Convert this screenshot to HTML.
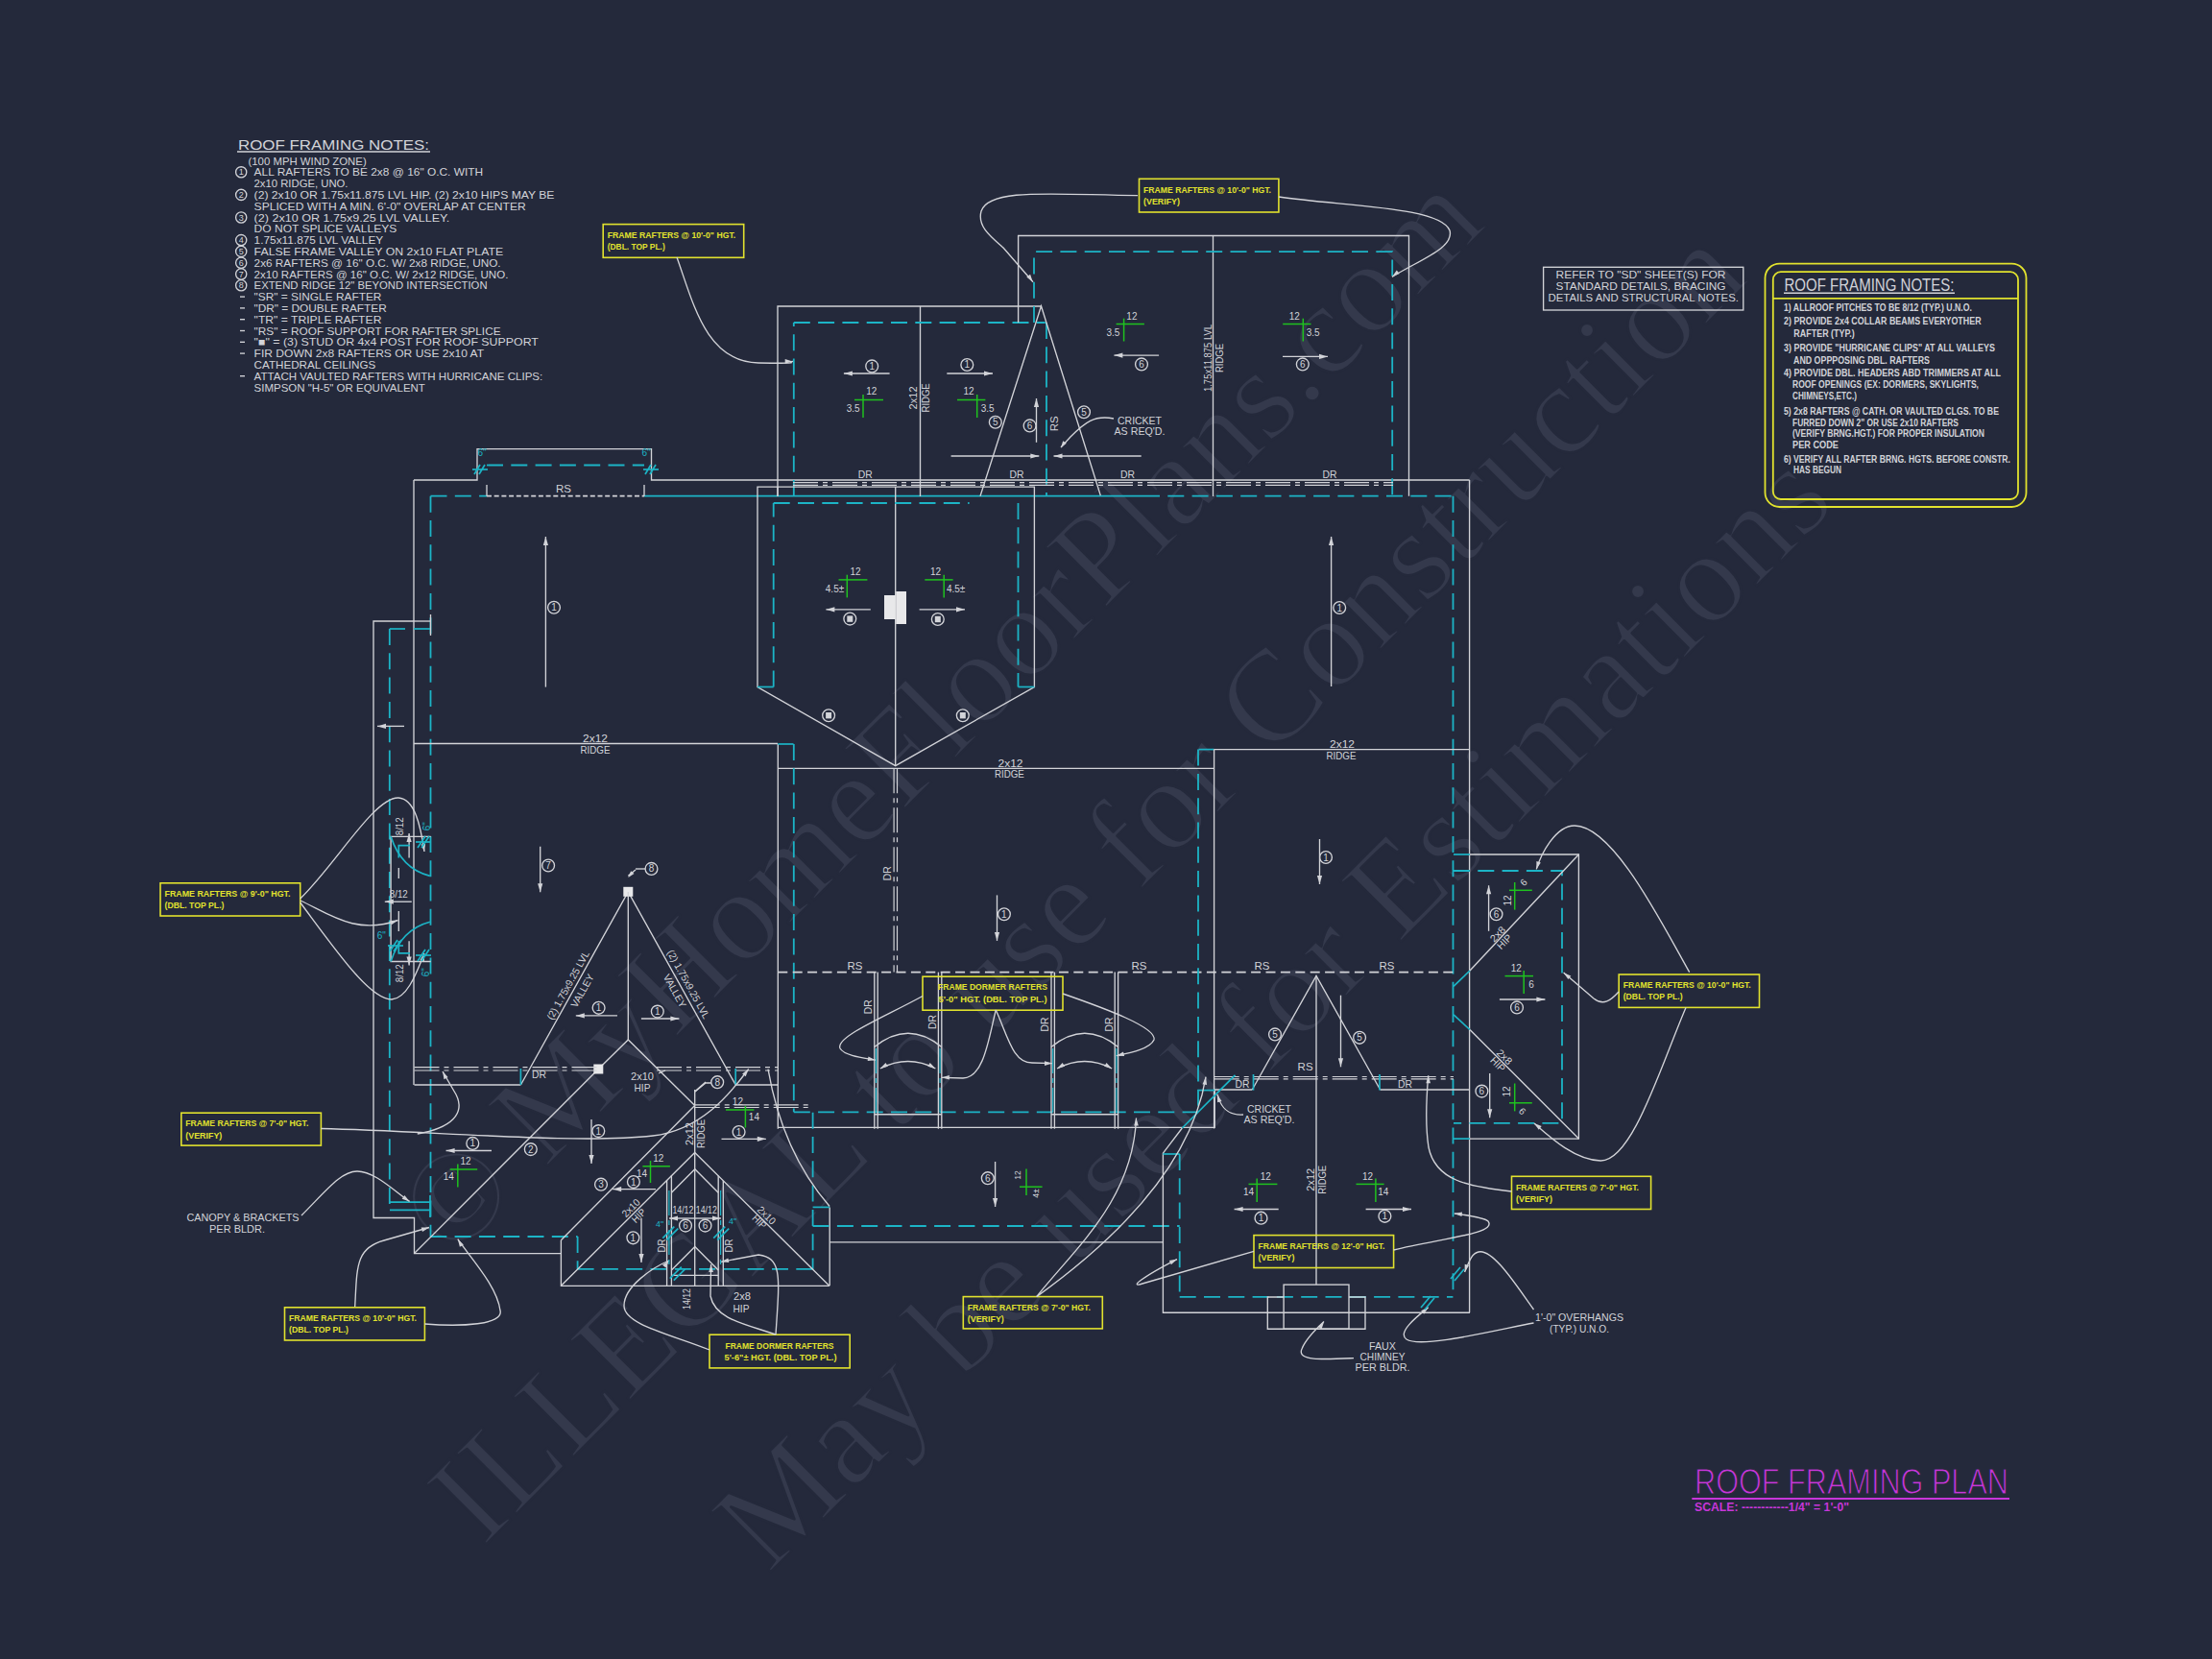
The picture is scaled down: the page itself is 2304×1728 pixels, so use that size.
<!DOCTYPE html>
<html><head><meta charset="utf-8"><title>Roof Framing Plan</title><style>
html,body{margin:0;padding:0;background:#24293b;}
svg{display:block}
.w{stroke:#d2d3d8;stroke-width:1.35;fill:none}
.w2{stroke:#d2d3d8;stroke-width:1.6;fill:none}
.c{stroke:#1cb4c6;stroke-width:1.7;fill:none}
.cd{stroke:#1cb4c6;stroke-width:1.8;fill:none;stroke-dasharray:17 8.3}
.rs{stroke:#d2d3d8;stroke-width:1.7;fill:none;stroke-dasharray:5 2.7}
.rs2{stroke:#d2d3d8;stroke-width:1.7;fill:none;stroke-dasharray:10 5.4}
.dr{stroke:#d2d3d8;stroke-width:1.2;fill:none;stroke-dasharray:26 5 5 5}
.drc{stroke:#1cb4c6;stroke-width:1.2;fill:none;stroke-dasharray:26 5 5 5}
.g{stroke:#1fc21f;stroke-width:1.5;fill:none}
.yb{stroke:#e1e22e;stroke-width:1.6;fill:none}
.ybl{stroke:#e1e22e;stroke-width:1.8;fill:none}
.fw{fill:#d2d3d8;stroke:none}
.tw{fill:#d2d3d8;font-family:"Liberation Sans",sans-serif}
.twb{fill:#d2d3d8;font-family:"Liberation Sans",sans-serif;font-weight:bold}
.ty{fill:#e1e22e;font-family:"Liberation Sans",sans-serif;font-weight:bold}
.tms{fill:#c736d9;font-family:"Liberation Sans",sans-serif;font-weight:bold}
.tc{fill:#1cb4c6;font-family:"Liberation Sans",sans-serif}
.tm{fill:#c736d9;font-family:"Liberation Sans",sans-serif;stroke:#24293b;stroke-width:1.1px}
.wm{fill:rgba(200,205,225,0.10);font-family:"Liberation Serif",serif;stroke:#24293b;stroke-width:2.6px;stroke-linejoin:round}
</style></head>
<body><svg width="2304" height="1728" viewBox="0 0 2304 1728">
<rect x="0" y="0" width="2304" height="1728" fill="#24293b"/>
<text x="470" y="1315" class="wm" font-size="137" transform="rotate(-45 470 1315)">© MyHomeFloorPlans.com</text>
<text x="503" y="1612" class="wm" font-size="137" transform="rotate(-45 503 1612)">ILLEGAL to use for Construction</text>
<text x="800" y="1640" class="wm" font-size="137" transform="rotate(-45 800 1640)">May be used for Estimations</text>
<text x="248" y="156" class="tw" font-size="14.5" textLength="199" lengthAdjust="spacingAndGlyphs">ROOF FRAMING NOTES:</text>
<line x1="247" y1="158" x2="448" y2="158" class="w"/>
<text x="258.5" y="171.5" class="tw" font-size="11.4" textLength="123.2" lengthAdjust="spacingAndGlyphs">(100 MPH WIND ZONE)</text>
<circle cx="251.2" cy="179.3" r="5.6" class="w"/>
<text x="251.2" y="182.4" class="tw" font-size="9" text-anchor="middle">1</text>
<text x="264.6" y="183.3" class="tw" font-size="11.4" textLength="238.6" lengthAdjust="spacingAndGlyphs">ALL RAFTERS TO BE 2x8 @ 16" O.C. WITH</text>
<text x="264.6" y="195.1" class="tw" font-size="11.4" textLength="97.9" lengthAdjust="spacingAndGlyphs">2x10 RIDGE, UNO.</text>
<circle cx="251.2" cy="202.9" r="5.6" class="w"/>
<text x="251.2" y="206" class="tw" font-size="9" text-anchor="middle">2</text>
<text x="264.6" y="206.9" class="tw" font-size="11.4" textLength="312.9" lengthAdjust="spacingAndGlyphs">(2) 2x10 OR 1.75x11.875 LVL HIP. (2) 2x10 HIPS MAY BE</text>
<text x="264.6" y="218.7" class="tw" font-size="11.4" textLength="283.2" lengthAdjust="spacingAndGlyphs">SPLICED WITH A MIN. 6'-0" OVERLAP AT CENTER</text>
<circle cx="251.2" cy="226.5" r="5.6" class="w"/>
<text x="251.2" y="229.6" class="tw" font-size="9" text-anchor="middle">3</text>
<text x="264.6" y="230.5" class="tw" font-size="11.4" textLength="203.7" lengthAdjust="spacingAndGlyphs">(2) 2x10 OR 1.75x9.25 LVL VALLEY.</text>
<text x="264.6" y="242.3" class="tw" font-size="11.4" textLength="148.6" lengthAdjust="spacingAndGlyphs">DO NOT SPLICE VALLEYS</text>
<circle cx="251.2" cy="250.1" r="5.6" class="w"/>
<text x="251.2" y="253.2" class="tw" font-size="9" text-anchor="middle">4</text>
<text x="264.6" y="254.1" class="tw" font-size="11.4" textLength="134.6" lengthAdjust="spacingAndGlyphs">1.75x11.875 LVL VALLEY</text>
<circle cx="251.2" cy="261.9" r="5.6" class="w"/>
<text x="251.2" y="265" class="tw" font-size="9" text-anchor="middle">5</text>
<text x="264.6" y="265.9" class="tw" font-size="11.4" textLength="259.6" lengthAdjust="spacingAndGlyphs">FALSE FRAME VALLEY ON 2x10 FLAT PLATE</text>
<circle cx="251.2" cy="273.7" r="5.6" class="w"/>
<text x="251.2" y="276.8" class="tw" font-size="9" text-anchor="middle">6</text>
<text x="264.6" y="277.7" class="tw" font-size="11.4" textLength="257" lengthAdjust="spacingAndGlyphs">2x6 RAFTERS @ 16" O.C. W/ 2x8 RIDGE, UNO.</text>
<circle cx="251.2" cy="285.5" r="5.6" class="w"/>
<text x="251.2" y="288.6" class="tw" font-size="9" text-anchor="middle">7</text>
<text x="264.6" y="289.5" class="tw" font-size="11.4" textLength="264.8" lengthAdjust="spacingAndGlyphs">2x10 RAFTERS @ 16" O.C. W/ 2x12 RIDGE, UNO.</text>
<circle cx="251.2" cy="297.3" r="5.6" class="w"/>
<text x="251.2" y="300.4" class="tw" font-size="9" text-anchor="middle">8</text>
<text x="264.6" y="301.3" class="tw" font-size="11.4" textLength="243" lengthAdjust="spacingAndGlyphs">EXTEND RIDGE 12" BEYOND INTERSECTION</text>
<line x1="250" y1="309.1" x2="255" y2="309.1" class="w"/>
<text x="264.6" y="313.1" class="tw" font-size="11.4" textLength="132.8" lengthAdjust="spacingAndGlyphs">"SR" = SINGLE RAFTER</text>
<line x1="250" y1="320.9" x2="255" y2="320.9" class="w"/>
<text x="264.6" y="324.9" class="tw" font-size="11.4" textLength="138.1" lengthAdjust="spacingAndGlyphs">"DR" = DOUBLE RAFTER</text>
<line x1="250" y1="332.7" x2="255" y2="332.7" class="w"/>
<text x="264.6" y="336.7" class="tw" font-size="11.4" textLength="132.8" lengthAdjust="spacingAndGlyphs">"TR" = TRIPLE RAFTER</text>
<line x1="250" y1="344.5" x2="255" y2="344.5" class="w"/>
<text x="264.6" y="348.5" class="tw" font-size="11.4" textLength="257" lengthAdjust="spacingAndGlyphs">"RS" = ROOF SUPPORT FOR RAFTER SPLICE</text>
<line x1="250" y1="356.3" x2="255" y2="356.3" class="w"/>
<text x="264.6" y="360.3" class="tw" font-size="11.4" textLength="296.3" lengthAdjust="spacingAndGlyphs">"■" = (3) STUD OR 4x4 POST FOR ROOF SUPPORT</text>
<line x1="250" y1="368.1" x2="255" y2="368.1" class="w"/>
<text x="264.6" y="372.1" class="tw" font-size="11.4" textLength="239.5" lengthAdjust="spacingAndGlyphs">FIR DOWN 2x8 RAFTERS OR USE 2x10 AT</text>
<text x="264.6" y="383.9" class="tw" font-size="11.4" textLength="126.7" lengthAdjust="spacingAndGlyphs">CATHEDRAL CEILINGS</text>
<line x1="250" y1="391.7" x2="255" y2="391.7" class="w"/>
<text x="264.6" y="395.7" class="tw" font-size="11.4" textLength="300.7" lengthAdjust="spacingAndGlyphs">ATTACH VAULTED RAFTERS WITH HURRICANE CLIPS:</text>
<text x="264.6" y="407.5" class="tw" font-size="11.4" textLength="178.3" lengthAdjust="spacingAndGlyphs">SIMPSON "H-5" OR EQUIVALENT</text>
<rect x="1607.6" y="278.3" width="208.2" height="44.7" class="w"/>
<text x="1709" y="289.8" class="tw" font-size="11" text-anchor="middle" textLength="177" lengthAdjust="spacingAndGlyphs">REFER TO "SD"  SHEET(S) FOR</text>
<text x="1709" y="301.5" class="tw" font-size="11" text-anchor="middle" textLength="177" lengthAdjust="spacingAndGlyphs">STANDARD DETAILS, BRACING</text>
<text x="1711.7" y="313.7" class="tw" font-size="11" text-anchor="middle" textLength="198.5" lengthAdjust="spacingAndGlyphs">DETAILS AND STRUCTURAL NOTES.</text>
<rect x="1838.5" y="274.6" width="272" height="253.4" rx="15" ry="15" class="ybl"/>
<rect x="1846.8" y="283.2" width="255.2" height="236.8" rx="8" ry="8" class="ybl"/>
<line x1="1846.8" y1="310.8" x2="2102" y2="310.8" class="ybl"/>
<text x="1858.5" y="303.2" class="tw" font-size="18.5" textLength="177" lengthAdjust="spacingAndGlyphs">ROOF FRAMING NOTES:</text>
<line x1="1858" y1="305.2" x2="2036" y2="305.2" class="w"/>
<text x="1858" y="324" class="twb" font-size="10.4" textLength="196" lengthAdjust="spacingAndGlyphs">1) ALLROOF PITCHES TO BE  8/12 (TYP.) U.N.O.</text>
<text x="1858" y="337.6" class="twb" font-size="10.4" textLength="205.6" lengthAdjust="spacingAndGlyphs">2) PROVIDE 2x4 COLLAR BEAMS EVERYOTHER</text>
<text x="1868.3" y="350.8" class="twb" font-size="10.4" textLength="63.5" lengthAdjust="spacingAndGlyphs">RAFTER (TYP.)</text>
<text x="1858" y="365.5" class="twb" font-size="10.4" textLength="220" lengthAdjust="spacingAndGlyphs">3) PROVIDE "HURRICANE CLIPS" AT ALL VALLEYS</text>
<text x="1868" y="379.1" class="twb" font-size="10.4" textLength="142" lengthAdjust="spacingAndGlyphs">AND OPPPOSING DBL. RAFTERS</text>
<text x="1858" y="392.3" class="twb" font-size="10.4" textLength="226" lengthAdjust="spacingAndGlyphs">4) PROVIDE DBL. HEADERS ABD TRIMMERS AT ALL</text>
<text x="1867" y="404" class="twb" font-size="10.4" textLength="194" lengthAdjust="spacingAndGlyphs">ROOF OPENINGS (EX: DORMERS, SKYLIGHTS,</text>
<text x="1867" y="416.3" class="twb" font-size="10.4" textLength="67" lengthAdjust="spacingAndGlyphs">CHIMNEYS,ETC.)</text>
<text x="1858" y="432" class="twb" font-size="10.4" textLength="224" lengthAdjust="spacingAndGlyphs">5) 2x8 RAFTERS @ CATH. OR VAULTED CLGS. TO BE</text>
<text x="1867" y="443.6" class="twb" font-size="10.4" textLength="173" lengthAdjust="spacingAndGlyphs">FURRED DOWN 2" OR USE 2x10 RAFTERS</text>
<text x="1867" y="454.8" class="twb" font-size="10.4" textLength="200" lengthAdjust="spacingAndGlyphs">(VERIFY BRNG.HGT.) FOR PROPER INSULATION</text>
<text x="1867" y="467" class="twb" font-size="10.4" textLength="48" lengthAdjust="spacingAndGlyphs">PER CODE</text>
<text x="1858" y="482.2" class="twb" font-size="10.4" textLength="236" lengthAdjust="spacingAndGlyphs">6) VERIFY ALL RAFTER BRNG. HGTS. BEFORE CONSTR.</text>
<text x="1868" y="493.2" class="twb" font-size="10.4" textLength="50" lengthAdjust="spacingAndGlyphs">HAS BEGUN</text>
<text x="1765" y="1556.4" class="tm" font-size="36" textLength="327" lengthAdjust="spacingAndGlyphs">ROOF FRAMING PLAN</text>
<line x1="1762.3" y1="1561" x2="2093" y2="1561" style="stroke:#c736d9;stroke-width:2"/>
<text x="1765" y="1574" class="tms" font-size="12.5" textLength="161" lengthAdjust="spacingAndGlyphs">SCALE: ------------1/4" = 1'-0"</text>
<polyline points="431,500 497,500 497,467.6 678.5,467.6 678.5,500 1530.6,500" class="w"/>
<line x1="431" y1="500" x2="431" y2="1130" class="w"/>
<line x1="1530.6" y1="500" x2="1530.6" y2="1367.2" class="w"/>
<line x1="448.5" y1="516.7" x2="507" y2="516.7" class="cd"/>
<line x1="507" y1="516.7" x2="671" y2="516.7" class="rs"/>
<line x1="671" y1="516.7" x2="1191" y2="516.7" class="c"/>
<line x1="1191" y1="516.7" x2="1513.5" y2="516.7" class="cd"/>
<line x1="507" y1="505" x2="507" y2="516.7" class="w"/>
<line x1="671" y1="505" x2="671" y2="516.7" class="w"/>
<line x1="448.5" y1="516.7" x2="448.5" y2="1288" class="cd"/>
<line x1="1513.5" y1="516.7" x2="1513.5" y2="1350.9" class="cd"/>
<line x1="507" y1="484.5" x2="671" y2="484.5" class="cd"/>
<text x="587" y="513.1" class="tw" font-size="10.5" text-anchor="middle" textLength="16" lengthAdjust="spacingAndGlyphs">RS</text>
<text x="502" y="475.4" class="tc" font-size="10" text-anchor="middle">6"</text>
<text x="673" y="475.4" class="tc" font-size="10" text-anchor="middle">6"</text>
<line x1="494" y1="494" x2="500" y2="484" class="c"/>
<line x1="499" y1="494" x2="505" y2="484" class="c"/>
<line x1="492" y1="489" x2="508" y2="489" class="c"/>
<line x1="672" y1="494" x2="678" y2="484" class="c"/>
<line x1="677" y1="494" x2="683" y2="484" class="c"/>
<line x1="670" y1="489" x2="686" y2="489" class="c"/>
<polyline points="810,517 810,319 1084.5,319" class="w"/>
<line x1="958.5" y1="319" x2="958.5" y2="517" class="w"/>
<line x1="826.8" y1="517" x2="826.8" y2="336" class="cd"/>
<line x1="826.8" y1="336" x2="1088.8" y2="336" class="cd"/>
<polyline points="1060.6,336 1060.6,245.5 1467.5,245.5 1467.5,516.7" class="w"/>
<line x1="1263.5" y1="245.5" x2="1263.5" y2="517" class="w"/>
<polyline points="1077,336 1077,262.2 1450.2,262.2 1450.2,516.7" class="cd"/>
<line x1="1090" y1="336" x2="1090" y2="516.7" class="cd"/>
<polyline points="1021,516.8 1084.5,318.7 1146.3,516.1" class="w"/>
<line x1="826" y1="502.6" x2="1451" y2="502.6" class="dr"/>
<line x1="826" y1="505.3" x2="1451" y2="505.3" class="dr"/>
<text x="901.2" y="497.6" class="tw" font-size="10.5" text-anchor="middle" textLength="15" lengthAdjust="spacingAndGlyphs">DR</text>
<text x="1059" y="497.6" class="tw" font-size="10.5" text-anchor="middle" textLength="15" lengthAdjust="spacingAndGlyphs">DR</text>
<text x="1174.5" y="497.6" class="tw" font-size="10.5" text-anchor="middle" textLength="15" lengthAdjust="spacingAndGlyphs">DR</text>
<text x="1385" y="497.6" class="tw" font-size="10.5" text-anchor="middle" textLength="15" lengthAdjust="spacingAndGlyphs">DR</text>
<polygon points="789,507.1 789,715.5 932.7,797.6 1077.4,715.5 1077.4,507.1" class="w"/>
<line x1="932.7" y1="507.1" x2="932.7" y2="797.6" class="w"/>
<line x1="805.7" y1="715.5" x2="805.7" y2="524" class="cd"/>
<line x1="805.7" y1="524" x2="1009.6" y2="524" class="cd"/>
<line x1="1060.5" y1="524" x2="1060.5" y2="715.5" class="cd"/>
<line x1="789" y1="715.5" x2="805.7" y2="715.5" class="c"/>
<line x1="1060.5" y1="715.5" x2="1077.4" y2="715.5" class="c"/>
<rect x="921" y="620" width="11.7" height="25" class="fw" style="fill:#e8e8ea"/>
<rect x="933.2" y="616" width="10.8" height="34" class="fw" style="fill:#e8e8ea"/>
<line x1="873.5" y1="603.9" x2="903.4" y2="603.9" class="g"/>
<line x1="882.3" y1="598.7" x2="882.3" y2="622.4" class="g"/>
<text x="891" y="599.2" class="tw" font-size="10" text-anchor="middle">12</text>
<text x="869.5" y="617.2" class="tw" font-size="10" text-anchor="middle">4.5±</text>
<line x1="963.3" y1="603.9" x2="992.6" y2="603.9" class="g"/>
<line x1="983.2" y1="598.7" x2="983.2" y2="622.4" class="g"/>
<text x="974.6" y="599.2" class="tw" font-size="10" text-anchor="middle">12</text>
<text x="995.6" y="617.2" class="tw" font-size="10" text-anchor="middle">4.5±</text>
<line x1="906.8" y1="634.8" x2="860.4" y2="634.8" class="w"/>
<polygon points="860.4,634.8 869.4,632.2 869.4,637.4" class="fw"/>
<line x1="957.6" y1="634.8" x2="1005" y2="634.8" class="w"/>
<polygon points="1005,634.8 996,637.4 996,632.2" class="fw"/>
<circle cx="885.3" cy="644.6" r="6.4" class="w"/>
<rect x="882.3" y="641.4" width="6" height="6.4" class="fw"/>
<circle cx="976.8" cy="645" r="6.4" class="w"/>
<rect x="973.8" y="641.8" width="6" height="6.4" class="fw"/>
<circle cx="863.1" cy="745.2" r="6.4" class="w"/>
<rect x="860.1" y="742" width="6" height="6.4" class="fw"/>
<circle cx="1002.8" cy="745.2" r="6.4" class="w"/>
<rect x="999.8" y="742" width="6" height="6.4" class="fw"/>
<line x1="431" y1="774.5" x2="810" y2="774.5" class="w"/>
<text x="620" y="772.6" class="tw" font-size="10.5" text-anchor="middle" textLength="26" lengthAdjust="spacingAndGlyphs">2x12</text>
<text x="620" y="784.6" class="tw" font-size="10.5" text-anchor="middle" textLength="31" lengthAdjust="spacingAndGlyphs">RIDGE</text>
<line x1="810" y1="507.1" x2="810" y2="517" class="w"/>
<line x1="568.4" y1="715.6" x2="568.4" y2="559" class="w"/>
<polygon points="568.4,559 571,568 565.8,568" class="fw"/>
<circle cx="577" cy="632.7" r="6.4" class="w"/>
<text x="577" y="636.2" class="tw" font-size="10" text-anchor="middle">1</text>
<line x1="1386.6" y1="715" x2="1386.6" y2="559" class="w"/>
<polygon points="1386.6,559 1389.2,568 1384,568" class="fw"/>
<circle cx="1395.2" cy="633" r="6.4" class="w"/>
<text x="1395.2" y="636.5" class="tw" font-size="10" text-anchor="middle">1</text>
<polyline points="431,647 389,647 389,1268.5 431.5,1268.5 431.5,1305.6 584,1305.6" class="w"/>
<line x1="405.8" y1="655" x2="405.8" y2="1260" class="cd"/>
<line x1="405.8" y1="655" x2="422" y2="655" class="c"/>
<line x1="431" y1="655" x2="448.5" y2="655" class="c"/>
<line x1="431" y1="647" x2="448.5" y2="647" class="w"/>
<line x1="448.5" y1="640" x2="448.5" y2="662" class="w"/>
<line x1="406" y1="1252.2" x2="448" y2="1252.2" class="c"/>
<line x1="406" y1="1260.3" x2="448" y2="1260.3" class="c"/>
<line x1="448" y1="1245" x2="448" y2="1268" class="c"/>
<line x1="421" y1="756.4" x2="393" y2="756.4" class="w"/>
<polygon points="393,756.4 402,753.8 402,759" class="fw"/>
<line x1="448.3" y1="1288" x2="601.6" y2="1288" class="cd"/>
<line x1="810.3" y1="775" x2="810.3" y2="1175.7" class="w"/>
<line x1="810.3" y1="775" x2="826.5" y2="775" class="c"/>
<line x1="810.3" y1="800.3" x2="1265" y2="800.3" class="w"/>
<line x1="826.8" y1="775" x2="826.8" y2="1158.3" class="cd"/>
<text x="1052.5" y="798.9" class="tw" font-size="10.5" text-anchor="middle" textLength="26" lengthAdjust="spacingAndGlyphs">2x12</text>
<text x="1051.4" y="810.2" class="tw" font-size="10.5" text-anchor="middle" textLength="31" lengthAdjust="spacingAndGlyphs">RIDGE</text>
<line x1="931.1" y1="800.3" x2="931.1" y2="1012.6" class="dr"/>
<line x1="934.5" y1="800.3" x2="934.5" y2="1012.6" class="dr"/>
<text x="924.3" y="913.4" class="tw" font-size="10.5" text-anchor="middle" textLength="15" lengthAdjust="spacingAndGlyphs" transform="rotate(-90 924.3 909.8)">DR</text>
<line x1="810.3" y1="1012.7" x2="1514" y2="1012.7" class="rs2"/>
<text x="890.4" y="1009.5" class="tw" font-size="10.5" text-anchor="middle" textLength="16" lengthAdjust="spacingAndGlyphs">RS</text>
<text x="1186.5" y="1009.5" class="tw" font-size="10.5" text-anchor="middle" textLength="16" lengthAdjust="spacingAndGlyphs">RS</text>
<text x="1314.4" y="1009.8" class="tw" font-size="10.5" text-anchor="middle" textLength="16" lengthAdjust="spacingAndGlyphs">RS</text>
<text x="1444.4" y="1009.8" class="tw" font-size="10.5" text-anchor="middle" textLength="16" lengthAdjust="spacingAndGlyphs">RS</text>
<line x1="1038.5" y1="932.4" x2="1038.5" y2="979.9" class="w"/>
<polygon points="1038.5,979.9 1035.9,970.9 1041.1,970.9" class="fw"/>
<circle cx="1045.9" cy="952.3" r="6.4" class="w"/>
<text x="1045.9" y="955.8" class="tw" font-size="10" text-anchor="middle">1</text>
<line x1="1248" y1="780.6" x2="1248" y2="1158.3" class="cd"/>
<line x1="1248.7" y1="780.6" x2="1264.6" y2="780.6" class="c"/>
<line x1="1264.6" y1="780.6" x2="1264.6" y2="1175.4" class="w"/>
<line x1="826.8" y1="1158.3" x2="1248" y2="1158.3" class="cd"/>
<line x1="1264.6" y1="780.6" x2="1530.6" y2="780.6" class="w"/>
<text x="1398" y="778.6" class="tw" font-size="10.5" text-anchor="middle" textLength="26" lengthAdjust="spacingAndGlyphs">2x12</text>
<text x="1397" y="790.6" class="tw" font-size="10.5" text-anchor="middle" textLength="31" lengthAdjust="spacingAndGlyphs">RIDGE</text>
<line x1="1374.5" y1="874" x2="1374.5" y2="921" class="w"/>
<polygon points="1374.5,921 1371.9,912 1377.1,912" class="fw"/>
<circle cx="1381" cy="893" r="6.4" class="w"/>
<text x="1381" y="896.5" class="tw" font-size="10" text-anchor="middle">1</text>
<line x1="910.8" y1="1012.6" x2="910.8" y2="1175.7" class="w"/>
<line x1="914.2" y1="1012.6" x2="914.2" y2="1175.7" class="w"/>
<line x1="977.4" y1="1012.6" x2="977.4" y2="1175.7" class="w"/>
<line x1="980.8" y1="1012.6" x2="980.8" y2="1175.7" class="w"/>
<path d="M910.8,1090.6 Q945.8,1062 980.8,1090.6" class="w"/>
<path d="M916.8,1113 Q945.8,1098 974.4,1113" class="w"/>
<polygon points="916.8,1113 922.5,1107 924.8,1110.8" class="fw"/>
<polygon points="974.4,1113 966.4,1110.8 968.7,1107" class="fw"/>
<line x1="912.5" y1="1092" x2="912.5" y2="1158" class="drc"/>
<line x1="979.1" y1="1092" x2="979.1" y2="1158" class="drc"/>
<line x1="910.8" y1="1160.7" x2="980.8" y2="1160.7" class="w"/>
<line x1="1095" y1="1012.6" x2="1095" y2="1175.7" class="w"/>
<line x1="1098.4" y1="1012.6" x2="1098.4" y2="1175.7" class="w"/>
<line x1="1161.2" y1="1012.6" x2="1161.2" y2="1175.7" class="w"/>
<line x1="1164.6" y1="1012.6" x2="1164.6" y2="1175.7" class="w"/>
<path d="M1095,1090.6 Q1129.8,1062 1164.6000000000001,1090.6" class="w"/>
<path d="M1101,1113 Q1129.8,1098 1158.2,1113" class="w"/>
<polygon points="1101,1113 1106.7,1107 1109,1110.8" class="fw"/>
<polygon points="1158.2,1113 1150.2,1110.8 1152.5,1107" class="fw"/>
<line x1="1096.7" y1="1092" x2="1096.7" y2="1158" class="drc"/>
<line x1="1162.9" y1="1092" x2="1162.9" y2="1158" class="drc"/>
<line x1="1095" y1="1160.7" x2="1164.6" y2="1160.7" class="w"/>
<text x="904" y="1052.4" class="tw" font-size="10.5" text-anchor="middle" textLength="15" lengthAdjust="spacingAndGlyphs" transform="rotate(-90 904 1048.8)">DR</text>
<text x="971.8" y="1068.2" class="tw" font-size="10.5" text-anchor="middle" textLength="15" lengthAdjust="spacingAndGlyphs" transform="rotate(-90 971.8 1064.6)">DR</text>
<text x="1088.2" y="1070.6" class="tw" font-size="10.5" text-anchor="middle" textLength="15" lengthAdjust="spacingAndGlyphs" transform="rotate(-90 1088.2 1067)">DR</text>
<text x="1155.3" y="1070.6" class="tw" font-size="10.5" text-anchor="middle" textLength="15" lengthAdjust="spacingAndGlyphs" transform="rotate(-90 1155.3 1067)">DR</text>
<polyline points="542.4,1130 654.3,928.8 766.2,1130" class="w"/>
<rect x="649.3" y="923.8" width="10" height="10" class="fw" style="fill:#e8e8ea"/>
<line x1="654.3" y1="929" x2="654.3" y2="1083" class="w"/>
<polyline points="431.5,1305.6 623.3,1113.5 654.3,1083 723.7,1151.6" class="w"/>
<rect x="618.3" y="1108.5" width="10" height="10" class="fw" style="fill:#e8e8ea"/>
<line x1="431.5" y1="1111.7" x2="623.3" y2="1111.7" class="dr"/>
<line x1="431.5" y1="1115" x2="623.3" y2="1115" class="dr"/>
<line x1="723.7" y1="1150.8" x2="846.4" y2="1150.8" class="dr"/>
<line x1="723.7" y1="1153.5" x2="846.4" y2="1153.5" class="dr"/>
<line x1="684" y1="1111.7" x2="810" y2="1111.7" class="dr"/>
<line x1="684" y1="1115" x2="810" y2="1115" class="dr"/>
<line x1="431.5" y1="1130" x2="542.4" y2="1130" class="w"/>
<line x1="766.2" y1="1130" x2="810.3" y2="1130" class="w"/>
<line x1="542.4" y1="1113" x2="542.4" y2="1130" class="c"/>
<line x1="766.2" y1="1113" x2="766.2" y2="1130" class="c"/>
<text x="561.4" y="1123" class="tw" font-size="10.5" text-anchor="middle" textLength="15" lengthAdjust="spacingAndGlyphs">DR</text>
<text x="591.7" y="1029.9" class="tw" font-size="10.5" text-anchor="middle" textLength="80" lengthAdjust="spacingAndGlyphs" transform="rotate(-61 591.7 1026.3)">(2) 1.75x9.25 LVL</text>
<text x="606.7" y="1035.4" class="tw" font-size="10.5" text-anchor="middle" textLength="38" lengthAdjust="spacingAndGlyphs" transform="rotate(-61 606.7 1031.8)">VALLEY</text>
<text x="717.1" y="1028.9" class="tw" font-size="10.5" text-anchor="middle" textLength="80" lengthAdjust="spacingAndGlyphs" transform="rotate(61 717.1 1025.3)">(2) 1.75x9.25 LVL</text>
<text x="702.8" y="1035.8" class="tw" font-size="10.5" text-anchor="middle" textLength="38" lengthAdjust="spacingAndGlyphs" transform="rotate(61 702.8 1032.2)">VALLEY</text>
<line x1="643" y1="1057.9" x2="599.8" y2="1057.9" class="w"/>
<polygon points="599.8,1057.9 608.8,1055.3 608.8,1060.5" class="fw"/>
<circle cx="623.6" cy="1049.8" r="6.4" class="w"/>
<text x="623.6" y="1053.2" class="tw" font-size="10" text-anchor="middle">1</text>
<line x1="667.9" y1="1061" x2="707.4" y2="1061" class="w"/>
<polygon points="707.4,1061 698.4,1063.6 698.4,1058.4" class="fw"/>
<circle cx="684.8" cy="1053.6" r="6.4" class="w"/>
<text x="684.8" y="1057" class="tw" font-size="10" text-anchor="middle">1</text>
<line x1="562.7" y1="881.8" x2="562.7" y2="929.3" class="w"/>
<polygon points="562.7,929.3 560.1,920.3 565.3,920.3" class="fw"/>
<circle cx="571.1" cy="901.5" r="6.4" class="w"/>
<text x="571.1" y="905" class="tw" font-size="10" text-anchor="middle">7</text>
<polyline points="654.3,912.3 662,906" class="w"/>
<polygon points="654.3,914 657.1,907.2 660.5,910" class="fw"/>
<line x1="662" y1="905" x2="672" y2="905" class="w"/>
<circle cx="678.5" cy="904.9" r="6.4" class="w"/>
<text x="678.5" y="908.4" class="tw" font-size="10" text-anchor="middle">8</text>
<text x="669" y="1124.6" class="tw" font-size="10.5" text-anchor="middle" textLength="24" lengthAdjust="spacingAndGlyphs">2x10</text>
<text x="669" y="1136.6" class="tw" font-size="10.5" text-anchor="middle" textLength="17" lengthAdjust="spacingAndGlyphs">HIP</text>
<line x1="810.3" y1="1174.3" x2="1265.3" y2="1174.3" class="w"/>
<line x1="846.6" y1="1158.7" x2="846.6" y2="1321.9" class="cd"/>
<line x1="601.6" y1="1321.9" x2="846.6" y2="1321.9" class="cd"/>
<line x1="601.6" y1="1288" x2="601.6" y2="1321.9" class="cd"/>
<line x1="864.2" y1="1257.4" x2="864.2" y2="1339.3" class="w"/>
<line x1="846.6" y1="1257.4" x2="864.2" y2="1257.4" class="c"/>
<line x1="864.2" y1="1293.8" x2="1211.8" y2="1293.8" class="w"/>
<line x1="846.6" y1="1277" x2="1228.7" y2="1277" class="cd"/>
<circle cx="1028.8" cy="1227.2" r="6.4" class="w"/>
<text x="1028.8" y="1230.7" class="tw" font-size="10" text-anchor="middle">6</text>
<line x1="1036.6" y1="1210" x2="1036.6" y2="1257" class="w"/>
<polygon points="1036.6,1257 1034,1248 1039.2,1248" class="fw"/>
<line x1="1062" y1="1236.2" x2="1085.6" y2="1236.2" class="g"/>
<line x1="1069" y1="1217.4" x2="1069" y2="1244.9" class="g"/>
<text x="1060" y="1226.9" class="tw" font-size="8.5" text-anchor="middle" transform="rotate(-90 1060 1224)">12</text>
<text x="1079" y="1245.9" class="tw" font-size="8.5" text-anchor="middle" transform="rotate(-90 1079 1243)">4±</text>
<polyline points="584.4,1291.7 584.4,1339.3 863.8,1339.3" class="w"/>
<polyline points="584.4,1339.3 723.7,1200.4 863.8,1339.3" class="w"/>
<line x1="584.4" y1="1291.7" x2="723.7" y2="1151.6" class="w"/>
<line x1="723.7" y1="1135" x2="723.7" y2="1339.3" class="w"/>
<text x="718.7" y="1184.5" class="tw" font-size="10" text-anchor="middle" textLength="24" lengthAdjust="spacingAndGlyphs" transform="rotate(-90 718.7 1181)">2x12</text>
<text x="730" y="1184.5" class="tw" font-size="10" text-anchor="middle" textLength="30" lengthAdjust="spacingAndGlyphs" transform="rotate(-90 730 1181)">RIDGE</text>
<polyline points="723.7,1200.4 723.7,1200.4" class="w"/>
<polyline points="1530.9,890 1644.4,890 1644.4,1186.1 1530.9,1186.1" class="w"/>
<line x1="1514" y1="890" x2="1530.9" y2="890" class="c"/>
<line x1="1514" y1="1186.1" x2="1530.9" y2="1186.1" class="c"/>
<polyline points="1514,907 1627,907 1627,1169.9 1514,1169.9" class="cd"/>
<line x1="1644.4" y1="890" x2="1531" y2="1011" class="w"/>
<line x1="1531" y1="1011" x2="1514" y2="1027.4" class="c"/>
<line x1="1644.4" y1="1186.1" x2="1531" y2="1072.5" class="w"/>
<line x1="1531" y1="1072.5" x2="1514" y2="1056.8" class="c"/>
<polyline points="1304.3,1135 1371,1016.4 1437.6,1135" class="w"/>
<line x1="1371" y1="1016.4" x2="1371" y2="1338.1" class="w"/>
<circle cx="1328" cy="1077.4" r="6.4" class="w"/>
<text x="1328" y="1080.9" class="tw" font-size="10" text-anchor="middle">5</text>
<circle cx="1416.1" cy="1080.8" r="6.4" class="w"/>
<text x="1416.1" y="1084.2" class="tw" font-size="10" text-anchor="middle">5</text>
<line x1="1396.5" y1="1036.7" x2="1396.5" y2="1111.3" class="w"/>
<polygon points="1396.5,1111.3 1393.9,1102.3 1399.1,1102.3" class="fw"/>
<text x="1359.6" y="1114.9" class="tw" font-size="10.5" text-anchor="middle" textLength="16" lengthAdjust="spacingAndGlyphs">RS</text>
<line x1="1264.7" y1="1121.5" x2="1514" y2="1121.5" class="dr"/>
<line x1="1264.7" y1="1123.8" x2="1514" y2="1123.8" class="dr"/>
<line x1="1437.6" y1="1135" x2="1530.7" y2="1135" class="w"/>
<line x1="1264.7" y1="1135" x2="1304.3" y2="1135" class="w"/>
<text x="1463.6" y="1133" class="tw" font-size="10.5" text-anchor="middle" textLength="15" lengthAdjust="spacingAndGlyphs">DR</text>
<text x="1294" y="1133" class="tw" font-size="10.5" text-anchor="middle" textLength="15" lengthAdjust="spacingAndGlyphs">DR</text>
<line x1="1265.2" y1="1135" x2="1265.2" y2="1175" class="w"/>
<polyline points="1231.3,1175 1211.4,1201.2 1211.4,1367.2 1531,1367.2" class="w"/>
<line x1="1231.3" y1="1175" x2="1286.5" y2="1119.8" class="c"/>
<line x1="1211.4" y1="1202" x2="1228.6" y2="1202" class="c"/>
<line x1="1248.5" y1="1135.6" x2="1265.2" y2="1135.6" class="c"/>
<line x1="1305.5" y1="1119" x2="1305.5" y2="1135.6" class="c"/>
<line x1="1437" y1="1119" x2="1437" y2="1135.6" class="c"/>
<line x1="1228.7" y1="1202" x2="1228.7" y2="1350.9" class="cd"/>
<line x1="1228.7" y1="1350.9" x2="1513.4" y2="1350.9" class="cd"/>
<rect x="1337.1" y="1338.1" width="67.9" height="46.1" class="w"/>
<polyline points="1337.1,1351 1320.3,1351 1320.3,1384.2 1422,1384.2 1422,1351 1405,1351" class="w"/>
<text x="1365.6" y="1232.4" class="tw" font-size="10.5" text-anchor="middle" textLength="24" lengthAdjust="spacingAndGlyphs" transform="rotate(-90 1365.6 1228.8)">2x12</text>
<text x="1377.8" y="1232.4" class="tw" font-size="10.5" text-anchor="middle" textLength="30" lengthAdjust="spacingAndGlyphs" transform="rotate(-90 1377.8 1228.8)">RIDGE</text>
<line x1="1300.5" y1="1233.4" x2="1330.4" y2="1233.4" class="g"/>
<line x1="1309.2" y1="1227.5" x2="1309.2" y2="1251.9" class="g"/>
<text x="1318.2" y="1228.8" class="tw" font-size="10" text-anchor="middle">12</text>
<text x="1300.5" y="1244.5" class="tw" font-size="10" text-anchor="middle">14</text>
<line x1="1412.5" y1="1233.4" x2="1441.6" y2="1233.4" class="g"/>
<line x1="1432.9" y1="1227.5" x2="1432.9" y2="1251.9" class="g"/>
<text x="1424.5" y="1228.8" class="tw" font-size="10" text-anchor="middle">12</text>
<text x="1440.8" y="1244.5" class="tw" font-size="10" text-anchor="middle">14</text>
<line x1="1331.7" y1="1259.5" x2="1285.6" y2="1259.5" class="w"/>
<polygon points="1285.6,1259.5 1294.6,1256.9 1294.6,1262.1" class="fw"/>
<circle cx="1313.5" cy="1268.7" r="6.4" class="w"/>
<text x="1313.5" y="1272.2" class="tw" font-size="10" text-anchor="middle">1</text>
<line x1="1422.6" y1="1259.5" x2="1470" y2="1259.5" class="w"/>
<polygon points="1470,1259.5 1461,1262.1 1461,1256.9" class="fw"/>
<circle cx="1442.4" cy="1266.8" r="6.4" class="w"/>
<text x="1442.4" y="1270.2" class="tw" font-size="10" text-anchor="middle">1</text>
<line x1="926.6" y1="389" x2="878.9" y2="389" class="w"/>
<polygon points="878.9,389 887.9,386.4 887.9,391.6" class="fw"/>
<circle cx="908.2" cy="381.4" r="6.4" class="w"/>
<text x="908.2" y="384.8" class="tw" font-size="10" text-anchor="middle">1</text>
<line x1="986.3" y1="389" x2="1034" y2="389" class="w"/>
<polygon points="1034,389 1025,391.6 1025,386.4" class="fw"/>
<circle cx="1007.3" cy="380" r="6.4" class="w"/>
<text x="1007.3" y="383.4" class="tw" font-size="10" text-anchor="middle">1</text>
<line x1="890" y1="416.5" x2="920" y2="416.5" class="g"/>
<line x1="899" y1="411" x2="899" y2="435" class="g"/>
<text x="907.7" y="411.3" class="tw" font-size="10" text-anchor="middle">12</text>
<text x="888.6" y="428.6" class="tw" font-size="10" text-anchor="middle">3.5</text>
<line x1="997" y1="416.5" x2="1026.4" y2="416.5" class="g"/>
<line x1="1017.7" y1="411" x2="1017.7" y2="435" class="g"/>
<text x="1009" y="411.4" class="tw" font-size="10" text-anchor="middle">12</text>
<text x="1028.6" y="428.6" class="tw" font-size="10" text-anchor="middle">3.5</text>
<text x="951.6" y="418" class="tw" font-size="10.5" text-anchor="middle" textLength="24" lengthAdjust="spacingAndGlyphs" transform="rotate(-90 951.6 414.4)">2x12</text>
<text x="964.6" y="418" class="tw" font-size="10.5" text-anchor="middle" textLength="30" lengthAdjust="spacingAndGlyphs" transform="rotate(-90 964.6 414.4)">RIDGE</text>
<circle cx="1036.8" cy="439.8" r="6.4" class="w"/>
<text x="1036.8" y="443.2" class="tw" font-size="10" text-anchor="middle">5</text>
<circle cx="1072.6" cy="443.4" r="6.4" class="w"/>
<text x="1072.6" y="446.8" class="tw" font-size="10" text-anchor="middle">6</text>
<line x1="990.6" y1="475" x2="1082.3" y2="475" class="w"/>
<polygon points="1082.3,475 1073.3,477.6 1073.3,472.4" class="fw"/>
<line x1="1188.7" y1="475" x2="1097.5" y2="475" class="w"/>
<polygon points="1097.5,475 1106.5,472.4 1106.5,477.6" class="fw"/>
<line x1="1079.5" y1="460.8" x2="1079.5" y2="415" class="w"/>
<polygon points="1079.5,415 1082.1,424 1076.9,424" class="fw"/>
<text x="1098.6" y="444.9" class="tw" font-size="10.5" text-anchor="middle" textLength="16" lengthAdjust="spacingAndGlyphs" transform="rotate(-90 1098.6 441.3)">RS</text>
<circle cx="1129" cy="429.3" r="6.4" class="w"/>
<text x="1129" y="432.8" class="tw" font-size="10" text-anchor="middle">5</text>
<text x="1187" y="441.8" class="tw" font-size="11" text-anchor="middle" textLength="46" lengthAdjust="spacingAndGlyphs">CRICKET</text>
<text x="1187" y="453.3" class="tw" font-size="11" text-anchor="middle" textLength="53" lengthAdjust="spacingAndGlyphs">AS REQ'D.</text>
<path d="M1160,436 C1140,432 1130,440 1115,455 L1105,466" class="w"/>
<polygon points="1105,466.2 1107.2,459.2 1110.8,461.7" class="fw"/>
<line x1="1162.6" y1="337.5" x2="1191.9" y2="337.5" class="g"/>
<line x1="1170.6" y1="331.7" x2="1170.6" y2="355.5" class="g"/>
<text x="1178.9" y="332.9" class="tw" font-size="10" text-anchor="middle">12</text>
<text x="1159.4" y="350.3" class="tw" font-size="10" text-anchor="middle">3.5</text>
<line x1="1336.2" y1="337.5" x2="1365.5" y2="337.5" class="g"/>
<line x1="1357.3" y1="331.7" x2="1357.3" y2="355.5" class="g"/>
<text x="1348.2" y="332.9" class="tw" font-size="10" text-anchor="middle">12</text>
<text x="1367.7" y="350.3" class="tw" font-size="10" text-anchor="middle">3.5</text>
<line x1="1207.1" y1="370.1" x2="1160.4" y2="370.1" class="w"/>
<polygon points="1160.4,370.1 1169.4,367.5 1169.4,372.7" class="fw"/>
<circle cx="1189" cy="379.4" r="6.4" class="w"/>
<text x="1189" y="382.8" class="tw" font-size="10" text-anchor="middle">6</text>
<line x1="1336" y1="371.4" x2="1383" y2="371.4" class="w"/>
<polygon points="1383,371.4 1374,374 1374,368.8" class="fw"/>
<circle cx="1356.8" cy="379.4" r="6.4" class="w"/>
<text x="1356.8" y="382.8" class="tw" font-size="10" text-anchor="middle">6</text>
<text x="1258" y="376.6" class="tw" font-size="10.5" text-anchor="middle" textLength="70" lengthAdjust="spacingAndGlyphs" transform="rotate(-90 1258 373)">1.75x11.875 LVL</text>
<text x="1270.5" y="376.6" class="tw" font-size="10.5" text-anchor="middle" textLength="30" lengthAdjust="spacingAndGlyphs" transform="rotate(-90 1270.5 373)">RIDGE</text>
<rect x="628.2" y="233.6" width="146.5" height="34.7" class="yb"/>
<text x="632.7" y="247.8" class="ty" font-size="9.2" textLength="133.5" lengthAdjust="spacingAndGlyphs">FRAME RAFTERS @ 10'-0" HGT.</text>
<text x="632.7" y="260" class="ty" font-size="9.2" textLength="60" lengthAdjust="spacingAndGlyphs">(DBL. TOP PL.)</text>
<rect x="1186.5" y="186.3" width="145.4" height="34.7" class="yb"/>
<text x="1191" y="200.5" class="ty" font-size="9.2" textLength="133" lengthAdjust="spacingAndGlyphs">FRAME RAFTERS @ 10'-0" HGT.</text>
<text x="1191" y="212.7" class="ty" font-size="9.2" textLength="38" lengthAdjust="spacingAndGlyphs">(VERIFY)</text>
<rect x="167" y="919.8" width="145.7" height="34.2" class="yb"/>
<text x="171.5" y="934" class="ty" font-size="9.2" textLength="131" lengthAdjust="spacingAndGlyphs">FRAME RAFTERS @ 9'-0" HGT.</text>
<text x="171.5" y="946.2" class="ty" font-size="9.2" textLength="62" lengthAdjust="spacingAndGlyphs">(DBL. TOP PL.)</text>
<rect x="1686.2" y="1015" width="146.3" height="34.4" class="yb"/>
<text x="1690.7" y="1029.2" class="ty" font-size="9.2" textLength="133" lengthAdjust="spacingAndGlyphs">FRAME RAFTERS @ 10'-0" HGT.</text>
<text x="1690.7" y="1041.4" class="ty" font-size="9.2" textLength="62" lengthAdjust="spacingAndGlyphs">(DBL. TOP PL.)</text>
<rect x="188.8" y="1159.2" width="145.6" height="33.9" class="yb"/>
<text x="193.3" y="1173.4" class="ty" font-size="9.2" textLength="128" lengthAdjust="spacingAndGlyphs">FRAME RAFTERS @ 7'-0" HGT.</text>
<text x="193.3" y="1185.6" class="ty" font-size="9.2" textLength="38" lengthAdjust="spacingAndGlyphs">(VERIFY)</text>
<rect x="296.5" y="1361.8" width="145.9" height="34.2" class="yb"/>
<text x="301" y="1376" class="ty" font-size="9.2" textLength="133" lengthAdjust="spacingAndGlyphs">FRAME RAFTERS @ 10'-0" HGT.</text>
<text x="301" y="1388.2" class="ty" font-size="9.2" textLength="62" lengthAdjust="spacingAndGlyphs">(DBL. TOP PL.)</text>
<rect x="1003.3" y="1350.6" width="145" height="33.3" class="yb"/>
<text x="1007.8" y="1364.8" class="ty" font-size="9.2" textLength="128" lengthAdjust="spacingAndGlyphs">FRAME RAFTERS @ 7'-0" HGT.</text>
<text x="1007.8" y="1377" class="ty" font-size="9.2" textLength="38" lengthAdjust="spacingAndGlyphs">(VERIFY)</text>
<rect x="1306" y="1286.6" width="145.6" height="33.9" class="yb"/>
<text x="1310.5" y="1300.8" class="ty" font-size="9.2" textLength="132" lengthAdjust="spacingAndGlyphs">FRAME RAFTERS @ 12'-0" HGT.</text>
<text x="1310.5" y="1313" class="ty" font-size="9.2" textLength="38" lengthAdjust="spacingAndGlyphs">(VERIFY)</text>
<rect x="1574.5" y="1225.3" width="145.1" height="34.2" class="yb"/>
<text x="1579" y="1239.5" class="ty" font-size="9.2" textLength="128" lengthAdjust="spacingAndGlyphs">FRAME RAFTERS @ 7'-0" HGT.</text>
<text x="1579" y="1251.7" class="ty" font-size="9.2" textLength="38" lengthAdjust="spacingAndGlyphs">(VERIFY)</text>
<rect x="961" y="1017.2" width="146" height="35" class="yb"/>
<text x="1034" y="1031" class="ty" font-size="9.2" text-anchor="middle" textLength="114" lengthAdjust="spacingAndGlyphs">FRAME DORMER RAFTERS</text>
<text x="1034" y="1043.5" class="ty" font-size="9.2" text-anchor="middle" textLength="113" lengthAdjust="spacingAndGlyphs">5'-0" HGT. (DBL. TOP PL.)</text>
<rect x="739" y="1390.2" width="146.2" height="34.7" class="yb"/>
<text x="812" y="1404.7" class="ty" font-size="9.2" text-anchor="middle" textLength="113" lengthAdjust="spacingAndGlyphs">FRAME DORMER RAFTERS</text>
<text x="813" y="1417" class="ty" font-size="9.2" text-anchor="middle" textLength="117" lengthAdjust="spacingAndGlyphs">5'-6"± HGT. (DBL. TOP PL.)</text>
<path d="M705,268 C722,315 735,377 790,378 S815,377 826,376.4" class="w"/>
<polygon points="825.7,376.4 817.7,378.7 817.7,374.1" class="fw"/>
<path d="M1185,203.6 C1100,203 1030,195 1022,220 C1018,235 1030,245 1045,258 L1076,293.7" class="w"/>
<polygon points="1075.8,293.7 1069.3,288.5 1073.1,285.8" class="fw"/>
<path d="M1332,205 C1400,215 1500,215 1510,240 C1515,258 1480,270 1450,288.3" class="w"/>
<polygon points="1450,288.3 1454.8,281.5 1457.7,285.1" class="fw"/>
<path d="M312.7,936 C350,900 390,830 415,831 C432,832 438,860 442,887" class="w"/>
<polygon points="442,887 438.5,879.4 443.1,878.7" class="fw"/>
<path d="M312.7,938 C340,950 370,975 414.5,958.5" class="w"/>
<polygon points="414.5,958.5 407.7,963.3 406.2,959" class="fw"/>
<path d="M312.7,940 C350,990 385,1041 408,1041 C425,1040 435,1010 442,993" class="w"/>
<polygon points="442,993 441.9,1001.3 437.5,1000" class="fw"/>
<path d="M334.4,1175.5 C450,1178 600,1192 680,1183 C730,1177 760,1140 779.7,1113.5" class="w"/>
<polygon points="779.7,1113.5 776.7,1121.3 773.1,1118.5" class="fw"/>
<path d="M434.8,1181 C470,1175 485,1160 475,1140 L461,1116" class="w"/>
<polygon points="461,1116 466.6,1122.1 462.5,1124.2" class="fw"/>
<path d="M369.7,1361 C372,1320 370,1300 400,1292 L447,1278.5" class="w"/>
<polygon points="447,1278.5 440,1283 438.7,1278.6" class="fw"/>
<path d="M442.4,1379 C480,1382 525,1380 521,1365 C518,1340 490,1310 476.8,1290.7" class="w"/>
<polygon points="476.8,1290.7 482.9,1296.4 478.9,1298.7" class="fw"/>
<path d="M314,1266 C340,1240 355,1220 372,1220 C390,1220 410,1240 426.6,1251.4" class="w"/>
<polygon points="426.6,1251.4 418.7,1248.7 421.4,1244.9" class="fw"/>
<path d="M739,1406 C700,1390 650,1380 650,1360 C650,1340 680,1320 697,1313" class="w"/>
<polygon points="697,1313 693.5,1320.5 690,1317.5" class="fw"/>
<path d="M808,1390 C780,1380 745,1375 740,1350 L740.6,1317" class="w"/>
<polygon points="740.6,1317 742.9,1325 738.3,1325" class="fw"/>
<path d="M808,1390 C812,1330 815,1310 790,1307 L751,1314.3" class="w"/>
<polygon points="751,1314.3 758.4,1310.5 759.3,1315" class="fw"/>
<path d="M961,1037.5 C920,1060 870,1080 875,1092 C880,1100 900,1102 911.9,1104.2" class="w"/>
<polygon points="911.9,1104.2 903.6,1104.9 904.5,1100.4" class="fw"/>
<path d="M1037.3,1052 C1030,1080 1025,1123 1003,1123 L980.8,1122.3" class="w"/>
<polygon points="980.8,1122.3 988.8,1120 988.8,1124.6" class="fw"/>
<path d="M1037.3,1052 C1050,1080 1055,1107 1075,1107 L1096,1107.6" class="w"/>
<polygon points="1096,1107.6 1088,1109.9 1088,1105.3" class="fw"/>
<path d="M1107,1035 C1150,1050 1205,1070 1202,1083 C1198,1092 1180,1096 1162.8,1099.7" class="w"/>
<polygon points="1162.8,1099.7 1170,1095.5 1171.1,1100" class="fw"/>
<path d="M1686,1033 C1678,1042 1670,1048 1660,1040 L1628.6,1013" class="w"/>
<polygon points="1628.6,1013.2 1636.3,1016.4 1633.4,1020" class="fw"/>
<path d="M1759.7,1012.7 C1730,960 1680,860 1640,860 C1620,860 1605,890 1600.3,905.4" class="w"/>
<polygon points="1600.3,905.4 1600.4,897.1 1604.8,898.4" class="fw"/>
<path d="M1756,1049.4 C1730,1110 1700,1210 1667,1209 C1640,1208 1615,1185 1598,1170" class="w"/>
<polygon points="1598,1169.9 1605.7,1173.1 1602.8,1176.7" class="fw"/>
<path d="M1574.5,1241 C1530,1236 1495,1230 1488,1195 C1484,1170 1486,1140 1487.7,1120.3" class="w"/>
<polygon points="1487.7,1120.3 1490,1128.3 1485.4,1128.3" class="fw"/>
<path d="M1306,1303.4 L1190,1337 C1175,1342 1190,1330 1226,1311.6" class="w"/>
<polygon points="1226,1311.6 1219.9,1317.2 1217.8,1313.1" class="fw"/>
<path d="M1451.6,1302 C1500,1290 1560,1285 1550,1272 C1545,1268 1530,1266 1514.8,1264" class="w"/>
<polygon points="1514.8,1264 1523,1262.5 1522.5,1267.1" class="fw"/>
<path d="M1079.7,1350.6 C1120,1300 1180,1250 1183.5,1164.5" class="w"/>
<polygon points="1183.5,1164.5 1185.8,1172.5 1181.2,1172.5" class="fw"/>
<path d="M1079.7,1350.6 C1150,1300 1240,1220 1256,1121.7" class="w"/>
<polygon points="1256,1121.7 1257.1,1130 1252.5,1129.3" class="fw"/>
<path d="M1295,1161 C1280,1162 1272,1155 1268,1140" class="w"/>
<polygon points="1268,1140 1272.5,1147 1268.1,1148.3" class="fw"/>
<path d="M1410,1414.6 C1380,1416 1350,1418 1356,1405 C1360,1395 1370,1385 1379,1376.6" class="w"/>
<polygon points="1379.2,1376.6 1376.5,1384.5 1372.7,1381.8" class="fw"/>
<path d="M1597.5,1364 C1580,1340 1555,1300 1540,1304 C1532,1306 1530,1315 1525.6,1325" class="w"/>
<polygon points="1525.6,1325 1525.7,1316.7 1530.1,1318" class="fw"/>
<path d="M1597.5,1378 C1560,1385 1480,1405 1465,1395 C1455,1388 1475,1372 1487.7,1361.7" class="w"/>
<polygon points="1487.7,1361.7 1483.2,1368.7 1480.2,1365.2" class="fw"/>
<text x="253" y="1272.3" class="tw" font-size="11" text-anchor="middle" textLength="117" lengthAdjust="spacingAndGlyphs">CANOPY &amp; BRACKETS</text>
<text x="247" y="1283.8" class="tw" font-size="11" text-anchor="middle" textLength="58" lengthAdjust="spacingAndGlyphs">PER BLDR.</text>
<text x="1322" y="1159.4" class="tw" font-size="11" text-anchor="middle" textLength="46" lengthAdjust="spacingAndGlyphs">CRICKET</text>
<text x="1322" y="1170.2" class="tw" font-size="11" text-anchor="middle" textLength="53" lengthAdjust="spacingAndGlyphs">AS REQ'D.</text>
<text x="1440" y="1406.2" class="tw" font-size="11" text-anchor="middle" textLength="28" lengthAdjust="spacingAndGlyphs">FAUX</text>
<text x="1440" y="1417.1" class="tw" font-size="11" text-anchor="middle" textLength="47" lengthAdjust="spacingAndGlyphs">CHIMNEY</text>
<text x="1440" y="1427.9" class="tw" font-size="11" text-anchor="middle" textLength="57" lengthAdjust="spacingAndGlyphs">PER BLDR.</text>
<text x="1645" y="1375.8" class="tw" font-size="11" text-anchor="middle" textLength="92" lengthAdjust="spacingAndGlyphs">1'-0" OVERHANGS</text>
<text x="1645" y="1387.8" class="tw" font-size="11" text-anchor="middle" textLength="62" lengthAdjust="spacingAndGlyphs">(TYP.) U.N.O.</text>
<circle cx="552.8" cy="1197.1" r="6.4" class="w"/>
<text x="552.8" y="1200.5" class="tw" font-size="10" text-anchor="middle">2</text>
<line x1="512" y1="1198.5" x2="464.6" y2="1198.5" class="w"/>
<polygon points="464.6,1198.5 473.6,1195.9 473.6,1201.1" class="fw"/>
<circle cx="492.3" cy="1190.9" r="6.4" class="w"/>
<text x="492.3" y="1194.4" class="tw" font-size="10" text-anchor="middle">1</text>
<line x1="468.7" y1="1218" x2="497.2" y2="1218" class="g"/>
<line x1="476.8" y1="1212.6" x2="476.8" y2="1236.5" class="g"/>
<text x="485" y="1212.8" class="tw" font-size="10" text-anchor="middle">12</text>
<text x="467.3" y="1229" class="tw" font-size="10" text-anchor="middle">14</text>
<line x1="616" y1="1166" x2="616" y2="1212" class="w"/>
<polygon points="616,1212 613.4,1203 618.6,1203" class="fw"/>
<circle cx="623.3" cy="1178.1" r="6.4" class="w"/>
<text x="623.3" y="1181.5" class="tw" font-size="10" text-anchor="middle">1</text>
<line x1="669.4" y1="1214.8" x2="697.9" y2="1214.8" class="g"/>
<line x1="677.5" y1="1209" x2="677.5" y2="1232" class="g"/>
<text x="685.7" y="1209.5" class="tw" font-size="10" text-anchor="middle">12</text>
<text x="668.6" y="1226.4" class="tw" font-size="10" text-anchor="middle">14</text>
<circle cx="626" cy="1233.7" r="6.4" class="w"/>
<text x="626" y="1237.2" class="tw" font-size="10" text-anchor="middle">3</text>
<line x1="683" y1="1238.6" x2="638.2" y2="1238.6" class="w"/>
<polygon points="638.2,1238.6 647.2,1236 647.2,1241.2" class="fw"/>
<circle cx="659.9" cy="1231" r="6.4" class="w"/>
<text x="659.9" y="1234.5" class="tw" font-size="10" text-anchor="middle">1</text>
<text x="657.2" y="1261.8" class="tw" font-size="10.5" text-anchor="middle" textLength="22" lengthAdjust="spacingAndGlyphs" transform="rotate(-45 657.2 1258.2)">2x10</text>
<text x="665.3" y="1269.9" class="tw" font-size="10.5" text-anchor="middle" textLength="16" lengthAdjust="spacingAndGlyphs" transform="rotate(-45 665.3 1266.3)">HIP</text>
<line x1="668" y1="1269" x2="668" y2="1315" class="w"/>
<polygon points="668,1315 665.4,1306 670.6,1306" class="fw"/>
<circle cx="659.4" cy="1289.3" r="6.4" class="w"/>
<text x="659.4" y="1292.8" class="tw" font-size="10" text-anchor="middle">1</text>
<text x="689.7" y="1301" class="tw" font-size="10" text-anchor="middle" textLength="14" lengthAdjust="spacingAndGlyphs" transform="rotate(-90 689.7 1297.5)">DR</text>
<text x="759" y="1301" class="tw" font-size="10" text-anchor="middle" textLength="14" lengthAdjust="spacingAndGlyphs" transform="rotate(-90 759 1297.5)">DR</text>
<text x="711.4" y="1264.4" class="tw" font-size="10" text-anchor="middle" textLength="22" lengthAdjust="spacingAndGlyphs">14/12</text>
<text x="735.8" y="1264.4" class="tw" font-size="10" text-anchor="middle" textLength="22" lengthAdjust="spacingAndGlyphs">14/12</text>
<circle cx="714" cy="1276.6" r="6.4" class="w"/>
<text x="714" y="1280" class="tw" font-size="10" text-anchor="middle">6</text>
<circle cx="734.5" cy="1276.6" r="6.4" class="w"/>
<text x="734.5" y="1280" class="tw" font-size="10" text-anchor="middle">6</text>
<line x1="724" y1="1269" x2="697" y2="1269" class="w"/>
<polygon points="697,1269 706,1266.4 706,1271.6" class="fw"/>
<line x1="724" y1="1269" x2="751" y2="1269" class="w"/>
<polygon points="751,1269 742,1271.6 742,1266.4" class="fw"/>
<text x="687" y="1278.1" class="tc" font-size="9" text-anchor="middle">4"</text>
<text x="763" y="1275.1" class="tc" font-size="9" text-anchor="middle">4"</text>
<text x="798.4" y="1269.6" class="tw" font-size="10.5" text-anchor="middle" textLength="22" lengthAdjust="spacingAndGlyphs" transform="rotate(45 798.4 1266)">2x10</text>
<text x="790.9" y="1276.3" class="tw" font-size="10.5" text-anchor="middle" textLength="16" lengthAdjust="spacingAndGlyphs" transform="rotate(45 790.9 1272.7)">HIP</text>
<text x="715.5" y="1356.5" class="tw" font-size="10" text-anchor="middle" textLength="22" lengthAdjust="spacingAndGlyphs" transform="rotate(-90 715.5 1353)">14/12</text>
<text x="773" y="1354.1" class="tw" font-size="10.5" text-anchor="middle" textLength="18" lengthAdjust="spacingAndGlyphs">2x8</text>
<text x="772" y="1366.6" class="tw" font-size="10.5" text-anchor="middle" textLength="17" lengthAdjust="spacingAndGlyphs">HIP</text>
<line x1="756" y1="1156" x2="785.4" y2="1156" class="g"/>
<line x1="776.4" y1="1152" x2="776.4" y2="1174.5" class="g"/>
<text x="768.4" y="1150.9" class="tw" font-size="10" text-anchor="middle">12</text>
<text x="785.4" y="1166.7" class="tw" font-size="10" text-anchor="middle">14</text>
<line x1="751.5" y1="1186.3" x2="797.8" y2="1186.3" class="w"/>
<polygon points="797.8,1186.3 788.8,1188.9 788.8,1183.7" class="fw"/>
<circle cx="769.6" cy="1179" r="6.4" class="w"/>
<text x="769.6" y="1182.5" class="tw" font-size="10" text-anchor="middle">1</text>
<line x1="723.7" y1="1137" x2="735" y2="1127" class="w"/>
<path d="M724,1137 L735,1128 L741,1128" class="w"/>
<circle cx="747.2" cy="1127.2" r="6.4" class="w"/>
<text x="747.2" y="1130.7" class="tw" font-size="10" text-anchor="middle">8</text>
<line x1="686" y1="1118" x2="693" y2="1115" class="w"/>
<line x1="694.6" y1="1229.3" x2="694.6" y2="1339.2" class="w"/>
<line x1="699.4" y1="1224.5" x2="699.4" y2="1339.2" class="w"/>
<line x1="748.2" y1="1224.6" x2="748.2" y2="1339.2" class="w"/>
<line x1="753.3" y1="1229.7" x2="753.3" y2="1339.2" class="w"/>
<polyline points="699.4,1242.2 723.8,1217.8 748.2,1242.2" class="w"/>
<polyline points="699.4,1322.9 723.8,1298.5 748.2,1322.9" class="w"/>
<line x1="699.4" y1="1328.3" x2="748.2" y2="1328.3" class="w"/>
<line x1="696.9" y1="1240" x2="696.9" y2="1320" class="drc"/>
<line x1="750.6" y1="1240" x2="750.6" y2="1320" class="drc"/>
<path d="M800,1113.6 Q815,1200 864.1,1256.5" class="w"/>
<line x1="690.3" y1="1289.6" x2="702.3" y2="1277.6" class="c"/>
<line x1="694.3" y1="1291.6" x2="706.3" y2="1279.6" class="c"/>
<line x1="743.2" y1="1289.6" x2="755.2" y2="1277.6" class="c"/>
<line x1="747.2" y1="1291.6" x2="759.2" y2="1279.6" class="c"/>
<line x1="697.8" y1="1331.6" x2="709.8" y2="1319.6" class="c"/>
<line x1="701.8" y1="1333.6" x2="713.8" y2="1321.6" class="c"/>
<line x1="1572" y1="927.3" x2="1595.8" y2="927.3" class="g"/>
<line x1="1577.7" y1="919" x2="1577.7" y2="947.6" class="g"/>
<text x="1587" y="922.5" class="tw" font-size="10" text-anchor="middle" transform="rotate(-45 1587 919)">6</text>
<text x="1570" y="941.5" class="tw" font-size="10" text-anchor="middle" transform="rotate(-90 1570 938)">12</text>
<line x1="1550.6" y1="969.8" x2="1550.6" y2="922.3" class="w"/>
<polygon points="1550.6,922.3 1553.2,931.3 1548,931.3" class="fw"/>
<circle cx="1558.5" cy="952.2" r="6.4" class="w"/>
<text x="1558.5" y="955.7" class="tw" font-size="10" text-anchor="middle">6</text>
<text x="1560" y="976.6" class="tw" font-size="10.5" text-anchor="middle" textLength="18" lengthAdjust="spacingAndGlyphs" transform="rotate(-45 1560 973)">2x8</text>
<text x="1567" y="984.6" class="tw" font-size="10.5" text-anchor="middle" textLength="17" lengthAdjust="spacingAndGlyphs" transform="rotate(-45 1567 981)">HIP</text>
<line x1="1567.5" y1="1016.6" x2="1597" y2="1016.6" class="g"/>
<line x1="1587.2" y1="1011" x2="1587.2" y2="1035" class="g"/>
<text x="1579.3" y="1011.7" class="tw" font-size="10" text-anchor="middle">12</text>
<text x="1595" y="1028.7" class="tw" font-size="10" text-anchor="middle">6</text>
<line x1="1561.9" y1="1041" x2="1609.4" y2="1041" class="w"/>
<polygon points="1609.4,1041 1600.4,1043.6 1600.4,1038.4" class="fw"/>
<circle cx="1580" cy="1049.4" r="6.4" class="w"/>
<text x="1580" y="1052.9" class="tw" font-size="10" text-anchor="middle">6</text>
<text x="1567" y="1104.6" class="tw" font-size="10.5" text-anchor="middle" textLength="18" lengthAdjust="spacingAndGlyphs" transform="rotate(45 1567 1101)">2x8</text>
<text x="1560" y="1112.4" class="tw" font-size="10.5" text-anchor="middle" textLength="17" lengthAdjust="spacingAndGlyphs" transform="rotate(45 1560 1108.8)">HIP</text>
<line x1="1551.7" y1="1117.9" x2="1551.7" y2="1164.2" class="w"/>
<polygon points="1551.7,1164.2 1549.1,1155.2 1554.3,1155.2" class="fw"/>
<circle cx="1543.4" cy="1136.6" r="6.4" class="w"/>
<text x="1543.4" y="1140" class="tw" font-size="10" text-anchor="middle">6</text>
<line x1="1572" y1="1148.8" x2="1595.8" y2="1148.8" class="g"/>
<line x1="1577.7" y1="1128.5" x2="1577.7" y2="1157.4" class="g"/>
<text x="1569.8" y="1140.5" class="tw" font-size="10" text-anchor="middle" transform="rotate(-90 1569.8 1137)">12</text>
<text x="1585.6" y="1160.9" class="tw" font-size="10" text-anchor="middle" transform="rotate(45 1585.6 1157.4)">6</text>
<line x1="1511" y1="1332" x2="1521" y2="1320" class="c"/>
<line x1="1515" y1="1334" x2="1525" y2="1322" class="c"/>
<line x1="1480" y1="1362" x2="1490" y2="1350" class="c"/>
<line x1="1484" y1="1364" x2="1494" y2="1352" class="c"/>
<polyline points="448.7,871.3 407.1,871.3 407.1,1001.5 448.7,1001.5" class="w"/>
<text x="417" y="864.2" class="tw" font-size="10" text-anchor="middle" textLength="19" lengthAdjust="spacingAndGlyphs" transform="rotate(-90 417 860.8)">8/12</text>
<text x="415.3" y="934.9" class="tw" font-size="10" text-anchor="middle" textLength="19" lengthAdjust="spacingAndGlyphs">8/12</text>
<text x="417" y="1017.2" class="tw" font-size="10" text-anchor="middle" textLength="19" lengthAdjust="spacingAndGlyphs" transform="rotate(-90 417 1013.7)">8/12</text>
<line x1="426.1" y1="893.4" x2="426.1" y2="868" class="w"/>
<polygon points="426.1,868 428.7,877 423.5,877" class="fw"/>
<line x1="426.1" y1="980.2" x2="426.1" y2="1005.5" class="w"/>
<polygon points="426.1,1005.5 423.5,996.5 428.7,996.5" class="fw"/>
<line x1="428.8" y1="939.2" x2="400.8" y2="939.2" class="w"/>
<polygon points="400.8,939.2 409.8,936.6 409.8,941.8" class="fw"/>
<path d="M407.1,871.3 Q418,905 447.8,912.4" class="c"/>
<path d="M407.1,1001.5 Q418,968 447.8,960.3" class="c"/>
<polyline points="415.3,893.4 415.3,880.7 427,880.7" class="c"/>
<polyline points="415.3,980 415.3,992.8 427,992.8" class="c"/>
<line x1="415.3" y1="904" x2="415.3" y2="915" class="w"/>
<line x1="415.3" y1="949" x2="415.3" y2="970" class="w"/>
<text x="445" y="864.2" class="tc" font-size="10" text-anchor="middle" transform="rotate(-90 445 860.8)">6"</text>
<text x="397.2" y="978.2" class="tc" font-size="10" text-anchor="middle">6"</text>
<text x="443.3" y="1016.2" class="tc" font-size="10" text-anchor="middle" transform="rotate(-90 443.3 1012.7)">6"</text>
<line x1="435" y1="883" x2="443" y2="871" class="c"/>
<line x1="439" y1="883" x2="447" y2="871" class="c"/>
<line x1="433" y1="877" x2="449" y2="877" class="c"/>
<line x1="406" y1="991" x2="414" y2="979" class="c"/>
<line x1="410" y1="991" x2="418" y2="979" class="c"/>
<line x1="404" y1="985" x2="420" y2="985" class="c"/>
<line x1="435" y1="1001" x2="443" y2="989" class="c"/>
<line x1="439" y1="1001" x2="447" y2="989" class="c"/>
<line x1="433" y1="995" x2="449" y2="995" class="c"/>
</svg></body></html>
